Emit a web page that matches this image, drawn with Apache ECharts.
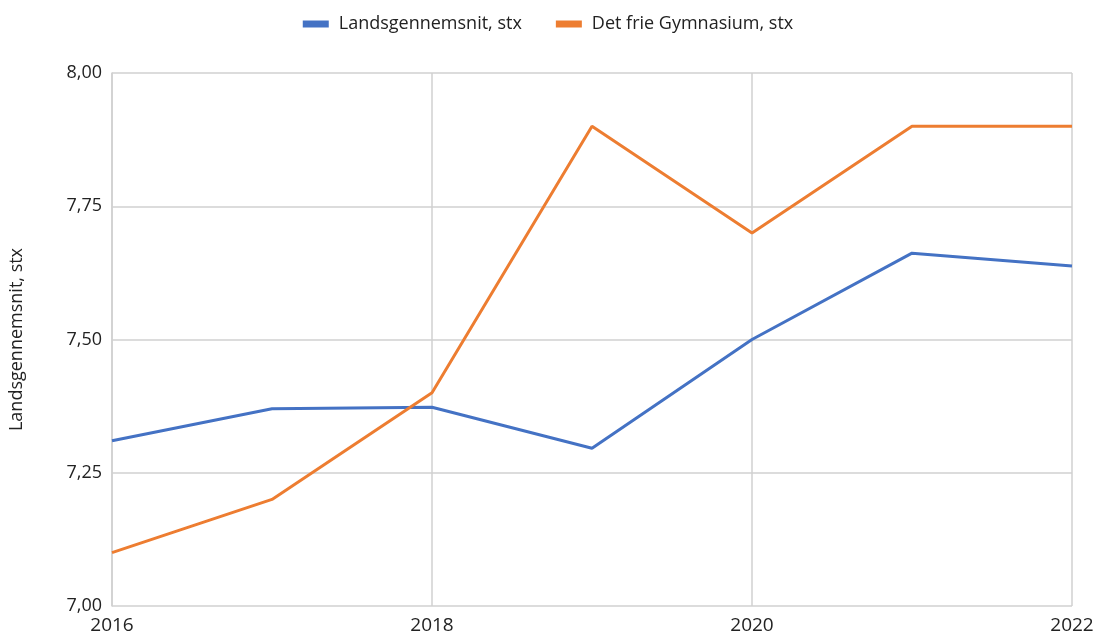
<!DOCTYPE html>
<html lang="da">
<head>
    <meta charset="UTF-8">
    <title>Karaktergennemsnit</title>
    <script src="https://cdn.jsdelivr.net/npm/echarts@6/dist/echarts.min.js"></script>
    <style>
        html, body { margin: 0; padding: 0; background: #fff; }
        #main { width: 1096px; height: 639px; }
    </style>
</head>
<body>
<div id="main"></div>
<script>
    // data
    const years = [2016, 2017, 2018, 2019, 2020, 2021, 2022];
    const landsgennemsnit = [7.31, 7.37, 7.373, 7.296, 7.50, 7.662, 7.638];
    const detFrie = [7.10, 7.20, 7.40, 7.90, 7.70, 7.90, 7.90];
    const seriesNames = ['Landsgennemsnit, stx', 'Det frie Gymnasium, stx'];

    const fontFam = '"Open Sans", "Noto Sans", sans-serif';
    const chart = echarts.init(document.getElementById('main'));

    chart.setOption({
        backgroundColor: '#fff',
        animation: false,
        legend: {
            top: 10,
            left: 'center',
            itemWidth: 26,
            itemHeight: 7,
            itemGap: 34,
            textStyle: { fontFamily: fontFam, fontSize: 18, color: '#222', padding: [0, 0, 0, 5] },
            data: seriesNames.map(n => ({ name: n, icon: 'rect' }))
        },
        grid: { left: 112, right: 24, top: 73, bottom: 33, outerBoundsMode: 'none' },
        xAxis: {
            type: 'value',
            min: 2016,
            max: 2022,
            interval: 2,
            axisLine: { show: false },
            axisTick: { show: false },
            splitLine: { show: true, lineStyle: { color: '#d0d0d0', width: 1.5 } },
            axisLabel: {
                fontFamily: fontFam, fontSize: 19, color: '#222', margin: 10,
                formatter: v => String(v)
            }
        },
        yAxis: {
            type: 'value',
            min: 7,
            max: 8,
            interval: 0.25,
            name: 'Landsgennemsnit, stx',
            nameLocation: 'middle',
            nameGap: 86,
            nameTextStyle: { fontFamily: fontFam, fontSize: 18, color: '#222' },
            axisLine: { show: true, lineStyle: { color: '#d0d0d0', width: 1.5 } },
            axisTick: { show: false },
            splitLine: { show: true, lineStyle: { color: '#d0d0d0', width: 1.5 } },
            axisLabel: {
                fontFamily: fontFam, fontSize: 18, color: '#222', margin: 10,
                formatter: v => v.toFixed(2).replace('.', ',')
            }
        },
        series: [
            {
                name: seriesNames[0],
                type: 'line',
                symbol: 'none',
                data: years.map((y, i) => [y, landsgennemsnit[i]]),
                itemStyle: { color: '#4472c4' },
                lineStyle: { color: '#4472c4', width: 3 }
            },
            {
                name: seriesNames[1],
                type: 'line',
                symbol: 'none',
                data: years.map((y, i) => [y, detFrie[i]]),
                itemStyle: { color: '#ed7d31' },
                lineStyle: { color: '#ed7d31', width: 3 }
            }
        ]
    });
</script>
</body>
</html>
